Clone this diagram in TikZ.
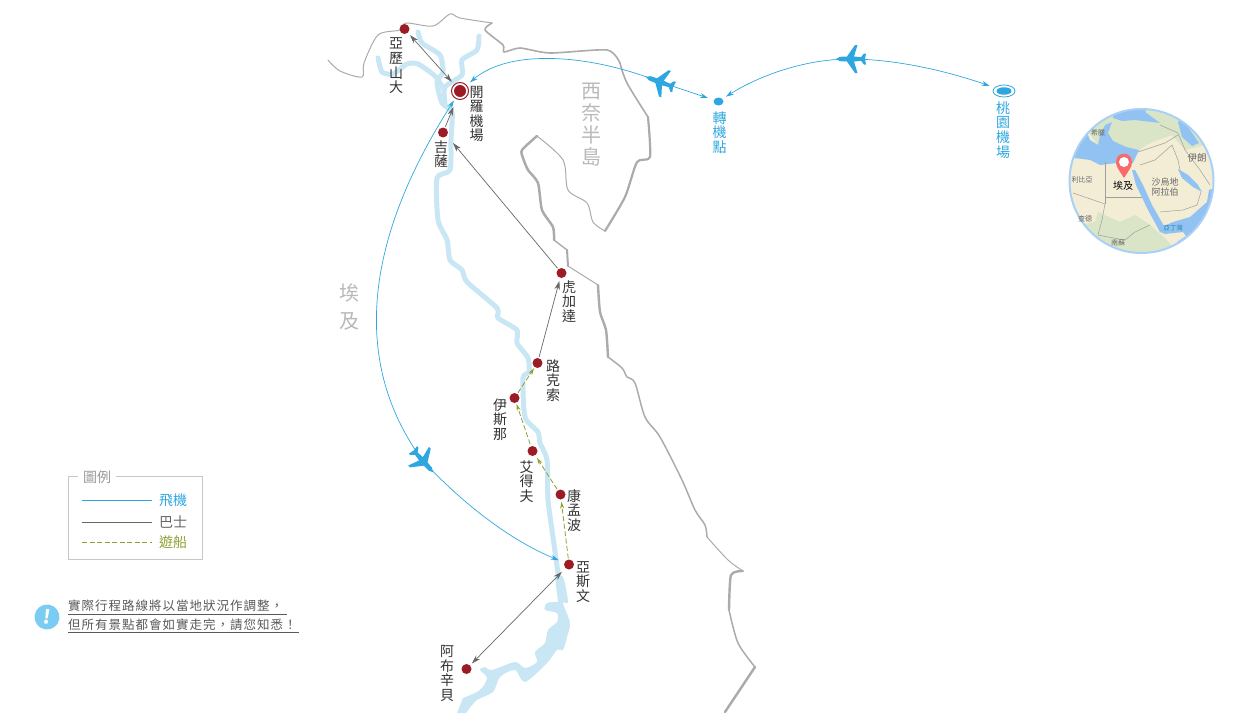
\documentclass[tikz,border=0pt]{standalone}
\usepackage{fontspec}
\setmainfont{Noto Sans CJK TC}
\newfontfamily\notefont[LetterSpace=8]{Noto Sans CJK TC}
\usetikzlibrary{shapes, arrows.meta}
\definecolor{coastgrey}{HTML}{ABABAB}
\definecolor{nileblue}{HTML}{C9E6F5}
\definecolor{stopred}{HTML}{9B1C24}
\definecolor{flyblue}{HTML}{2EA7E0}
\definecolor{busgrey}{HTML}{666666}
\definecolor{boatgreen}{HTML}{8F9E2E}
\definecolor{seablue}{HTML}{92C2F2}
\definecolor{landtan}{HTML}{F3EDD6}
\definecolor{landgreen}{HTML}{D9E5C6}
\definecolor{rimblue}{HTML}{A9D0F7}
\definecolor{pinred}{HTML}{F96A6A}
\definecolor{noteblue}{HTML}{7ACCF2}
\tikzset{
    coast/.style={draw=coastgrey,line width=#1,line join=round,line cap=round},
    nile/.style={draw=nileblue,line width=5pt,line join=round,line cap=round},
    stopdot/.style={circle,fill=stopred,inner sep=0pt,minimum size=10pt},
    vlabel/.style={align=center,inner sep=0pt,text=black!80,font=\fontsize{14}{14.6}\selectfont},
    biglabel/.style={align=center,inner sep=0pt,text=black!28,font=\fontsize{20}{22}\selectfont},
    flyline/.style={draw=flyblue,line width=0.7pt},
    busline/.style={draw=busgrey,line width=0.7pt},
    boatline/.style={draw=boatgreen,line width=0.8pt,dash pattern=on 5pt off 2.5pt},
    flytip/.style={-{Stealth[length=8pt,width=5pt]}},
    bustip/.style={-{Stealth[length=9pt,width=5.5pt]}},
    bustwotip/.style={{Stealth[length=9pt,width=5.5pt]}-{Stealth[length=9pt,width=5.5pt]}},
    boattip/.style={-{Stealth[length=7pt,width=4pt]}},
    maptext/.style={inner sep=0pt,align=center,text=black!60},
    planeicon/.pic={
        \fill[flyblue] (15,0) -- (11,2.2) -- (4,2.5) -- (-4,14) -- (-6.5,14) -- (-3,2.5) -- (-10,1.8)
            -- (-13,5.5) -- (-15,5.5) -- (-14,0) -- (-15,-5.5) -- (-13,-5.5) -- (-10,-1.8) -- (-3,-2.5)
            -- (-6.5,-14) -- (-4,-14) -- (4,-2.5) -- (11,-2.2) -- cycle;
    }
}
\begin{document}
\begin{tikzpicture}[x=1pt,y=-1pt]
    \useasboundingbox (0,0) rectangle (1250,720);

    % nile
    \draw[nile] plot[smooth,tension=0.4] coordinates {(418,32) (422,43) (440,55) (443,72) (437,82) (442,103) (452,112) (451,140) (450,170) (437,178) (438,220) (447,240) (450,260) (462,270) (467,282) (497,308) (498,318) (517,330) (517,343) (528,358) (529,372) (523,378) (525,417) (538,432) (540,443) (547,460) (548,500) (553,537) (559,580)};
    \draw[nile] plot[smooth,tension=0.4] coordinates {(378,58) (382,72) (393,74) (407,64) (418,64) (435,76) (443,88)};
    \draw[nile] plot[smooth,tension=0.4] coordinates {(479,36) (477,50) (462,60) (462,75) (445,87) (445,103)};
    \fill[nileblue] plot[smooth,tension=0.5] coordinates {(555,577) (563,577) (568,602) (563,603) (570,623) (567,637) (563,650) (557,650) (547,663) (525,682) (515,670) (500,677) (493,692) (477,700) (466,713)} -- (457,713) -- plot[smooth,tension=0.5] coordinates {(463,698) (480,690) (487,678) (480,670) (485,667) (492,670) (515,662) (525,668) (537,662) (535,652) (545,643) (548,630) (557,622) (557,613) (545,610) (547,603) (558,602)} -- cycle;

    % coast
    \draw[coast=1pt] plot[smooth,tension=0.5] coordinates {(328,60) (340,71) (362,77) (364,63) (378,35) (400,30) (406,23) (433,26) (450,14) (460,18) (492,23)};
    \draw[coast=1.6pt] plot[smooth,tension=0.4] coordinates {(492,23) (485,30) (503,45) (504,52) (520,48) (550,53) (607,50) (620,63)};
    \draw[coast=1.6pt] plot[smooth,tension=0.5] coordinates {(620,63) (627,83) (648,117)};
    \draw[coast=2.2pt] plot[smooth,tension=0.4] coordinates {(648,117) (650,157) (637,162) (625,197) (605,231)};
    \draw[coast=1pt] plot[smooth,tension=0.5] coordinates {(605,231) (593,222) (587,203) (568,190) (563,160) (537,136)};
    \draw[coast=2.5pt] plot[smooth,tension=0.4] coordinates {(537,136) (522,150) (523,158) (528,170) (538,183) (542,210) (553,227) (554,240)};
    \draw[coast=1.4pt] plot[smooth,tension=0.5] coordinates {(554,240) (567,250)};
    \draw[coast=2pt] (567,250) -- (568,266);
    \draw[coast=1pt] (568,266) -- (598,285);
    \draw[coast=2.4pt] plot[smooth,tension=0.4] coordinates {(598,285) (600,312) (606,330) (608,357)};
    \draw[coast=1.5pt] plot[smooth,tension=0.5] coordinates {(608,357) (622,368) (627,377) (635,383) (645,417) (660,437) (682,480) (695,510) (705,525) (707,537)};
    \draw[coast=1pt] plot[smooth,tension=0.5] coordinates {(707,537) (728,560) (743,571)};
    \draw[coast=2.4pt] plot[smooth,tension=0.4] coordinates {(743,571) (731,575) (729,610)};
    \draw[coast=1.5pt] plot[smooth,tension=0.5] coordinates {(729,610) (738,643) (755,667)};
    \draw[coast=2.4pt] (755,667) -- (725,712);

    % stops
    \node[stopdot] (alexandria) at (404.5,29) {};
    \node[circle,draw=stopred,line width=1pt,inner sep=0pt,minimum size=17pt] (cairoring) at (460,91) {};
    \node[stopdot,minimum size=12pt] (cairo) at (460,91) {};
    \node[stopdot] (giza) at (443,132.5) {};
    \node[stopdot] (hurghada) at (561.5,273) {};
    \node[stopdot] (luxor) at (537.5,363) {};
    \node[stopdot] (esna) at (514.5,398) {};
    \node[stopdot] (edfu) at (532.5,451) {};
    \node[stopdot] (komombo) at (560.5,494.5) {};
    \node[stopdot] (aswan) at (569,564.5) {};
    \node[stopdot] (abusimbel) at (466.5,669) {};
    \node[ellipse,fill=flyblue,inner sep=0pt,minimum width=10pt,minimum height=8pt] (transfer) at (718.5,101.5) {};
    \node[ellipse,draw=flyblue,line width=0.8pt,inner sep=0pt,minimum width=22pt,minimum height=12pt] (taoyuan) at (1004,91) {};
    \node[ellipse,fill=flyblue,inner sep=0pt,minimum width=15pt,minimum height=7.5pt] (taoyuandot) at (1004,91) {};
    \coordinate (cairoeast) at (453,143);

    % labels
    \node[vlabel] (alexandrialabel) at (396,66) {亞\\歷\\山\\大};
    \node[vlabel] (cairolabel) at (476.5,114) {開\\羅\\機\\場};
    \node[vlabel] (gizalabel) at (441,154) {吉\\薩};
    \node[vlabel] (hurghadalabel) at (569,301.5) {虎\\加\\達};
    \node[vlabel] (luxorlabel) at (553,380.5) {路\\克\\索};
    \node[vlabel] (esnalabel) at (500,419.5) {伊\\斯\\那};
    \node[vlabel] (edfulabel) at (526.5,481.5) {艾\\得\\夫};
    \node[vlabel] (komombolabel) at (574,510.5) {康\\孟\\波};
    \node[vlabel] (aswanlabel) at (583,582) {亞\\斯\\文};
    \node[vlabel] (abusimbellabel) at (447,673.5) {阿\\布\\辛\\貝};
    \node[vlabel,text=flyblue] (transferlabel) at (719.5,132.5) {轉\\機\\點};
    \node[vlabel,text=flyblue] (taoyuanlabel) at (1003,130) {桃\\園\\機\\場};
    \node[biglabel] (sinailabel) at (591,125) {西\\奈\\半\\島};
    \node[biglabel,font=\fontsize{20}{28}\selectfont] (egyptlabel) at (349,307) {埃\\及};

    % planes
    \coordinate (planeeast) at (851,59);
    \coordinate (planemid) at (660,82);
    \coordinate (planesouth) at (423,461);
    \pic[rotate=180] at (planeeast) {planeicon};
    \pic[rotate=160] at (planemid) {planeicon};
    \pic[rotate=-48] at (planesouth) {planeicon};

    % flights
    \draw[flyline,flytip,shorten <=5pt,shorten >=5pt] (planeeast) .. controls (900,60) and (950,72) .. (taoyuan);
    \draw[flyline,flytip,shorten <=5pt,shorten >=4pt] (planeeast) .. controls (800,60) and (755,78) .. (transfer);
    \draw[flyline,flytip,shorten <=5pt,shorten >=6pt] (planemid) -- (transfer);
    \draw[flyline,flytip,shorten <=5pt,shorten >=7pt] (planemid) .. controls (590,55) and (510,48) .. (cairo);
    \draw[flyline,flytip,shorten <=5pt,shorten >=5pt] (planesouth) .. controls (362,375) and (352,260) .. (cairo);
    \draw[flyline,flytip,shorten <=5pt,shorten >=6pt] (planesouth) .. controls (465,505) and (510,540) .. (aswan);

    % buses
    \draw[busline,bustwotip,shorten <=3pt,shorten >=6pt] (alexandria) -- (cairo);
    \draw[busline,bustip,shorten <=1pt,shorten >=11pt] (giza) -- (cairo);
    \draw[busline,bustip,shorten <=1pt] (hurghada) -- (cairoeast);
    \draw[busline,bustip,shorten <=1pt,shorten >=3pt] (luxor) -- (hurghada);
    \draw[busline,bustwotip,shorten <=5pt,shorten >=2.5pt] (aswan) -- (abusimbel);

    % cruise
    \draw[boatline,boattip,shorten <=1pt,shorten >=1pt] (esna) -- (luxor);
    \draw[boatline,boattip,shorten <=2pt,shorten >=1pt] (edfu) -- (esna);
    \draw[boatline,boattip,shorten <=1pt,shorten >=3pt] (komombo) -- (edfu);
    \draw[boatline,boattip,shorten <=1pt,shorten >=2pt] (aswan) -- (komombo);

    % locator
    \begin{scope}
        \clip (1141.5,181) circle[radius=72pt];
        \fill[landtan] (1060,100) rectangle (1225,260);
        \fill[landgreen] (1085,100) -- (1085,128) -- (1098,145) -- (1139,150) -- (1150,143) -- (1172,135) -- (1185,150) -- (1205,145) -- (1225,100) -- cycle;
        \fill[landgreen] (1065,228) -- (1095,222) -- (1098,212) -- (1120,222) -- (1135,215) -- (1150,225) -- (1165,238) -- (1185,262) -- (1080,262) -- cycle;
        \fill[seablue] (1060,165) -- (1075,158) -- (1090,160) -- (1100,165) -- (1117,163) -- (1133,163) -- (1139,150) -- (1126,147) -- (1113,141) -- (1108,133) -- (1112,122) -- (1105,125) -- (1100,135) -- (1098,145) -- (1090,140) -- (1085,128) -- (1092,118) -- (1090,100) -- (1060,100) -- cycle;
        \fill[seablue] (1113,118) -- (1116,100) -- (1152,100) -- (1145,112) -- (1160,123) -- (1135,120) -- (1122,121) -- cycle;
        \fill[seablue] (1178,122) -- (1185,116) -- (1190,130) -- (1199,143) -- (1192,146) -- (1182,137) -- cycle;
        \fill[seablue] (1178,169) -- (1188,175) -- (1198,185) -- (1202,192) -- (1193,187) -- (1182,178) -- cycle;
        \fill[seablue] (1220,186) -- (1209,190) -- (1207,202) -- (1190,217) -- (1173,222) -- (1164,226) -- (1152,205) -- (1143,185) -- (1135,170) -- (1132,170) -- (1136,185) -- (1148,210) -- (1160,232) -- (1165,234) -- (1183,232) -- (1186,236) -- (1177,242) -- (1190,262) -- (1225,262) -- cycle;
        \draw[black!38,line width=0.5pt] (1105,162) -- (1105,197) -- (1142,197);
        \draw[black!38,line width=0.5pt] (1073,193) -- (1105,204) -- (1102,220) -- (1098,235) -- (1108,237) -- (1125,240) -- (1135,232) -- (1150,225);
        \draw[black!38,line width=0.5pt] (1105,197) -- (1105,204);
        \draw[black!38,line width=0.5pt] (1138,152) -- (1165,143) -- (1178,135);
        \draw[black!38,line width=0.5pt] (1140,165) -- (1155,160) -- (1172,145) -- (1178,160) -- (1180,170);
        \draw[black!38,line width=0.5pt] (1160,212) -- (1183,210) -- (1197,205) -- (1201,192);
        \draw[black!38,line width=0.5pt] (1160,125) -- (1178,133) -- (1185,150) -- (1200,170) -- (1210,185);
    \end{scope}
    \draw[rimblue,line width=2pt] (1141.5,181) circle[radius=72pt];
    \node[maptext,font=\fontsize{7}{8}\selectfont] (greecelabel) at (1098,133) {希臘};
    \node[maptext,font=\fontsize{9.5}{10}\selectfont] (iranlabel) at (1197,158) {伊朗};
    \node[maptext,font=\fontsize{7}{8}\selectfont] (libyalabel) at (1082,180) {利比亞};
    \node[maptext,font=\fontsize{7}{8}\selectfont] (chadlabel) at (1085,219) {查德};
    \node[maptext,font=\fontsize{7}{8}\selectfont] (sudanlabel) at (1118,243) {南蘇};
    \node[maptext,font=\fontsize{9}{10.5}\selectfont] (saudilabel) at (1165,187) {沙烏地\\阿拉伯};
    \node[maptext,text=flyblue!80!black,font=\fontsize{6.5}{8}\selectfont] (adenlabel) at (1173,228) {亞丁灣};
    \fill[pinred] (1124,178) .. controls (1119,170) and (1116,167) .. (1116,162) .. controls (1116,151) and (1132,151) .. (1132,162) .. controls (1132,167) and (1129,170) .. (1124,178);
    \fill[white] (1124,162) circle[radius=5pt];
    \node[maptext,text=black,font=\fontsize{10}{11}\selectfont] (pinlabel) at (1123,186) {埃及};

    % legend
    \draw[black!22,line width=0.9pt] (68,476) rectangle (202,559);
    \node[fill=white,text=black!40,inner xsep=5pt,inner ysep=0pt,font=\fontsize{14}{15}\selectfont] (legendtitle) at (97,477) {圖例};
    \node[inner sep=0pt,text=flyblue,font=\fontsize{14}{15}\selectfont] (flykey) at (173,500) {飛機};
    \node[inner sep=0pt,text=busgrey,font=\fontsize{14}{15}\selectfont] (buskey) at (173,522) {巴士};
    \node[inner sep=0pt,text=boatgreen,font=\fontsize{14}{15}\selectfont] (boatkey) at (173,542) {遊船};
    \coordinate (flystart) at (82,500);
    \coordinate (busstart) at (82,522);
    \coordinate (boatstart) at (82,542);
    \draw[flyline,line width=1pt,shorten >=7pt] (flystart) -- (flykey.west);
    \draw[busline,line width=1pt,shorten >=7pt] (busstart) -- (buskey.west);
    \draw[boatline,line width=1pt,shorten >=7pt] (boatstart) -- (boatkey.west);

    % note
    \node[circle,fill=noteblue,inner sep=0pt,minimum size=25pt,text=white,rotate=-8,font=\bfseries\fontsize{19}{20}\selectfont] (noteicon) at (47,617) {!};
    \node[anchor=west,inner sep=0pt,text=black!65,font=\notefont\fontsize{12.5}{14}\selectfont] (notefirst) at (68,606) {實際行程路線將以當地狀況作調整，};
    \node[anchor=west,inner sep=0pt,text=black!65,font=\notefont\fontsize{12.5}{14}\selectfont] (notesecond) at (68,625) {但所有景點都會如實走完，請您知悉！};
    \draw[black!65,line width=0.7pt] (68,614) -- (287,614);
    \draw[black!65,line width=0.7pt] (68,632) -- (299,632);
\end{tikzpicture}
\end{document}
